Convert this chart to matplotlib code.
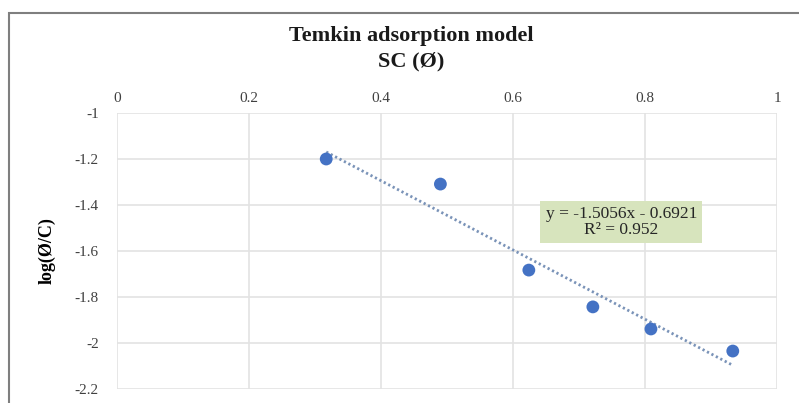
import matplotlib
matplotlib.use("Agg")
import matplotlib.pyplot as plt
from matplotlib.patches import Rectangle
import numpy as np

# Data
theta = [0.317, 0.490, 0.624, 0.721, 0.809, 0.933]
log_theta_c = [-1.200, -1.309, -1.683, -1.843, -1.939, -2.035]
slope = -1.5056
intercept = -0.6921
r2 = 0.952
x_ticks = [0, 0.2, 0.4, 0.6, 0.8, 1.0]
x_tick_labels = ["0", "0.2", "0.4", "0.6", "0.8", "1"]
y_ticks = [-1.0, -1.2, -1.4, -1.6, -1.8, -2.0, -2.2]
y_tick_labels = ["-1", "-1.2", "-1.4", "-1.6", "-1.8", "-2", "-2.2"]

plt.rcParams['font.family'] = ['Liberation Serif', 'DejaVu Serif']

fig = plt.figure(figsize=(7.99, 4.03), dpi=100)
fig.patch.set_facecolor('white')

# chart border
fig.add_artist(Rectangle((9/799, -0.05), 1.0, 1 - 13/403 + 0.05,
                         transform=fig.transFigure, fill=False,
                         edgecolor='#7f7f7f', linewidth=1.5))

ax = fig.add_axes([117/799, 1 - 389/403, (777-117)/799, (389-113)/403])
ax.set_xlim(0, 1)
ax.set_ylim(-2.2, -1.0)

ax.xaxis.tick_top()
ax.set_xticks(x_ticks)
ax.set_xticklabels(x_tick_labels, fontsize=11, color='#404040')
ax.set_yticks(y_ticks)
ax.set_yticklabels(y_tick_labels, fontsize=11, color='#404040')
ax.tick_params(axis='x', length=0, pad=6)
ax.tick_params(axis='y', length=0, pad=13)
ax.grid(True, color='#e3e3e3', linewidth=1.2)
ax.set_axisbelow(True)
for s in ax.spines.values():
    s.set_visible(False)

ax.scatter(theta, log_theta_c, s=85, color='#4472c4', zorder=3, edgecolors='none')

xf = np.array([min(theta), max(theta)])
ax.plot(xf, slope * xf + intercept, color='#7a93b8', linewidth=2,
        linestyle=(0, (0.8, 1.0)), zorder=2)

ax.text(0.764, -1.474, f"y = {slope}x - {abs(intercept)}\nR² = {r2}", ha='center', va='center',
        fontsize=12.5, color='#262626', linespacing=1.0,
        bbox=dict(boxstyle='square,pad=0.3', facecolor='#d7e4bd', edgecolor='none'))

ax.set_ylabel("log(Ø/C)", fontsize=13, fontweight='bold', labelpad=14)

fig.text(411/799, 1 - 36/403, "Temkin adsorption model", ha='center', va='center',
         fontsize=16, fontweight='bold', color='#1a1a1a')
fig.text(411/799, 1 - 61/403, "SC (Ø)", ha='center', va='center',
         fontsize=16, fontweight='bold', color='#1a1a1a')

fig.savefig("out.png", dpi=100)
